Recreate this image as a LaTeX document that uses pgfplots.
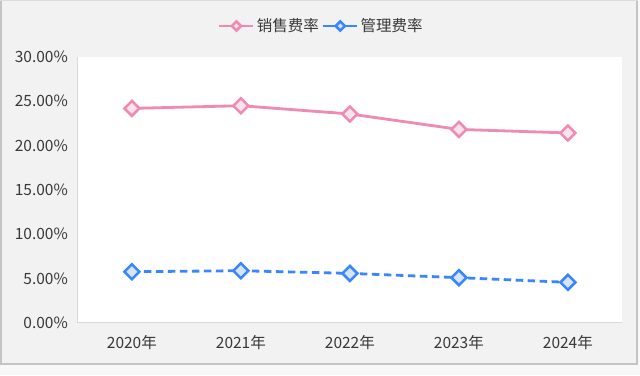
\documentclass[border=0pt]{standalone}
\usepackage{fontspec}
\setmainfont{Noto Sans CJK SC}
\usepackage{pgfplots}
\pgfplotsset{compat=1.18}
\definecolor{bgc}{HTML}{F2F2F2}
\definecolor{outc}{HTML}{F8F8F8}
\definecolor{brd}{HTML}{C4C4C4}
\definecolor{axc}{HTML}{D9D9D9}
\definecolor{txt}{HTML}{383838}
\definecolor{pk}{HTML}{EF8AB2}
\definecolor{pkf}{HTML}{FBE3EE}
\definecolor{bl}{HTML}{3A86FF}
\definecolor{blf}{HTML}{D6E4FF}
\begin{document}
\begin{tikzpicture}[x=1pt,y=1pt]
\fill[outc] (0,0) rectangle (640,375);
\fill[bgc] (0,11) rectangle (638,375);
\draw[brd,line width=2pt] (1,375) -- (1,11) -- (637,11) -- (637,375);
\draw[brd!60,line width=1pt] (0,374.5) -- (638,374.5);
\begin{axis}[
  at={(71,59)}, anchor=south west,
  scale only axis, width=545pt, height=266pt,
  xmin=-0.5, xmax=4.5, ymin=0, ymax=30,
  xtick={0,1,2,3,4},
  xticklabels={2020年,2021年,2022年,2023年,2024年},
  ytick={0,5,10,15,20,25,30},
  yticklabels={0.00\%,5.00\%,10.00\%,15.00\%,20.00\%,25.00\%,30.00\%},
  major tick length=0pt,
  axis background/.style={fill=white},
  axis x line*=bottom, axis y line*=left,
  axis line style={draw=axc,line width=1pt,-},
  tick label style={font=\fontsize{15.5}{18}\selectfont, text=txt},
  yticklabel style={xshift=-6pt},
  xticklabel style={yshift=-9pt},
  clip=false,
  legend style={at={(0.4477,1.1154)}, anchor=center, draw=none, fill=none,
    legend columns=2, font=\fontsize{15.5}{18}\selectfont, text=txt,
    /tikz/every even column/.append style={column sep=1pt}},
  legend image code/.code={
    \draw[#1,mark=none] (0pt,0pt) -- (34pt,0pt);
    \draw[#1,solid,mark repeat=2,mark phase=2,mark size=3.2pt,line width=2.2pt] plot coordinates {(0pt,0pt)(17pt,0pt)(34pt,0pt)};
  },
]
\addplot[pk, line width=2.8pt, mark=square*, mark size=5.3pt,
  mark options={rotate=45, fill=pkf, draw=pk, line width=2.5pt, solid}]
  coordinates {(0,24.17) (1,24.47) (2,23.54) (3,21.8) (4,21.4)};
\addlegendentry{销售费率}
\addplot[bl, line width=2.8pt, dash pattern=on 7.5pt off 4.5pt, mark=square*, mark size=5.3pt,
  mark options={rotate=45, fill=blf, draw=bl, line width=2.5pt, solid}]
  coordinates {(0,5.75) (1,5.86) (2,5.56) (3,5.08) (4,4.55)};
\addlegendentry{管理费率}
\end{axis}
\pgfresetboundingbox
\useasboundingbox (0,0) rectangle (640,375);
\end{tikzpicture}
\end{document}
